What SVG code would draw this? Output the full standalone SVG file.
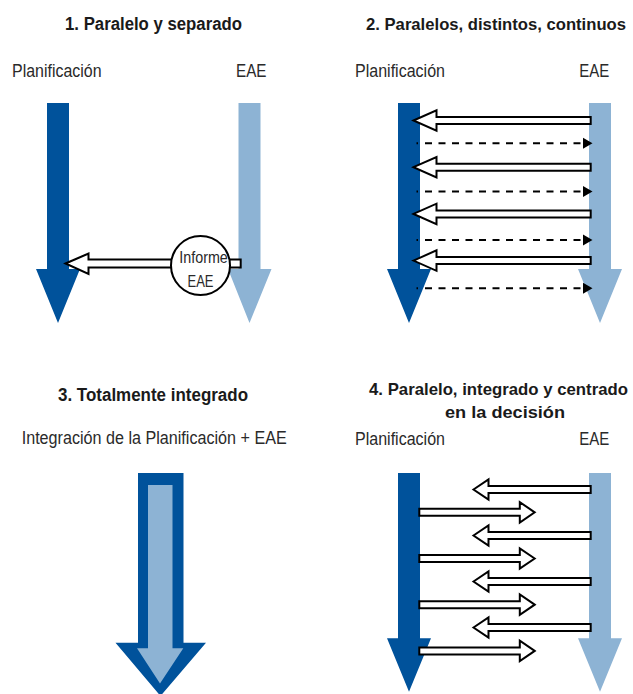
<svg xmlns="http://www.w3.org/2000/svg" width="633" height="694" viewBox="0 0 633 694">
<defs>
<style>
.title{font-family:"Liberation Sans",Arial,sans-serif;font-weight:bold;font-size:18px;fill:#1a1a1a}
.title.long{font-size:16.5px}
.lbl{font-family:"Liberation Sans",Arial,sans-serif;font-size:17.5px;fill:#2a2a2a}
.small{font-family:"Liberation Sans",Arial,sans-serif;font-size:17px;fill:#2a2a2a}
.dark{fill:#00529b}
.light{fill:#8db3d4}
.wa{fill:#ffffff;stroke:#000000;stroke-width:2;stroke-linejoin:miter}
.dash{stroke:#000000;stroke-width:2;fill:none;stroke-dasharray:7 6.5}
.dot{stroke:#000000;stroke-width:2;fill:none}
.ah{fill:#000000}
</style>
</defs>
<rect width="633" height="694" fill="#ffffff"/>

<!-- Titles -->
<g id="titles">
<text class="title" x="65" y="30" textLength="177" lengthAdjust="spacingAndGlyphs">1. Paralelo y separado</text>
<text class="title long" x="366" y="30" textLength="260" lengthAdjust="spacingAndGlyphs">2. Paralelos, distintos, continuos</text>
<text class="title" x="58" y="401" textLength="190" lengthAdjust="spacingAndGlyphs">3. Totalmente integrado</text>
<text class="title long" x="369" y="395" textLength="259" lengthAdjust="spacingAndGlyphs">4. Paralelo, integrado y centrado</text>
<text class="title long" x="445" y="417.5" textLength="120" lengthAdjust="spacingAndGlyphs">en la decisión</text>
</g>

<!-- Panel 1 -->
<g id="p1-plan">
<text class="lbl" x="12" y="77" textLength="89.5" lengthAdjust="spacingAndGlyphs">Planificación</text>
<polygon class="dark" points="47,103 69,103 69,269 80,269 58,323 36,269 47,269"/>
</g>
<g id="p1-eae">
<text class="lbl" x="236" y="77" textLength="30.5" lengthAdjust="spacingAndGlyphs">EAE</text>
<polygon class="light" points="238.5,103 260.5,103 260.5,269 271.5,269 249.5,323 228,269 238.5,269"/>
</g>

<!-- Panel 2 -->
<g id="p2-plan">
<text class="lbl" x="355" y="77" textLength="90" lengthAdjust="spacingAndGlyphs">Planificación</text>
<polygon class="dark" points="398,103 420,103 420,269 431,269 409,323 387,269 398,269"/>
</g>
<g id="p2-eae">
<text class="lbl" x="579.3" y="77" textLength="30" lengthAdjust="spacingAndGlyphs">EAE</text>
<polygon class="light" points="589,103 611,103 611,269 622,269 600,323 578,269 589,269"/>
</g>

<!-- Panel 3 -->
<g id="p3-integrado">
<text class="lbl" x="21.7" y="444" textLength="265" lengthAdjust="spacingAndGlyphs">Integración de la Planificación + EAE</text>
<polygon class="dark" points="138,473 183.5,473 183.5,642.7 206,642.7 160.5,696 115.5,642.7 138,642.7"/>
<polygon class="light" points="148,485 172.5,485 172.5,648.3 183.3,648.3 160,683.5 137,648.3 148,648.3"/>
</g>

<!-- Panel 4 -->
<g id="p4-plan">
<text class="lbl" x="355" y="445" textLength="90" lengthAdjust="spacingAndGlyphs">Planificación</text>
<polygon class="dark" points="398,473 420,473 420,638.3 431,638.3 409,691.7 387,638.3 398,638.3"/>
</g>
<g id="p4-eae">
<text class="lbl" x="579.3" y="445" textLength="30" lengthAdjust="spacingAndGlyphs">EAE</text>
<polygon class="light" points="589,473 611,473 611,638.3 622,638.3 600,691.7 578,638.3 589,638.3"/>
</g>

<!-- Connectors -->
<g id="connectors">
<!-- Panel 1: informe EAE -->
<path class="wa" d="M65.5,263.5 L88.5,253.5 L88.5,259.5 L240.7,259.5 L240.7,267.5 L88.5,267.5 L88.5,274 Z"/>
<!-- Panel 2: white arrows from EAE to Planificación -->
<path class="wa" d="M413.5,120.5 L436.5,110.3 L436.5,117 L590.7,117 L590.7,124 L436.5,124 L436.5,130.7 Z"/>
<path class="wa" d="M413.5,167.2 L436.5,157 L436.5,163.7 L590.7,163.7 L590.7,170.7 L436.5,170.7 L436.5,177.4 Z"/>
<path class="wa" d="M413.5,213.9 L436.5,203.7 L436.5,210.4 L590.7,210.4 L590.7,217.4 L436.5,217.4 L436.5,224.1 Z"/>
<path class="wa" d="M413.5,260.6 L436.5,250.4 L436.5,257.1 L590.7,257.1 L590.7,264.1 L436.5,264.1 L436.5,270.8 Z"/>
<!-- Panel 2: dashed arrows -->
<g>
<line class="dot" x1="416.5" y1="143.3" x2="418" y2="143.3"/>
<line class="dash" x1="425" y1="143.3" x2="585" y2="143.3"/>
<polygon class="ah" points="583,137.8 592.5,143.3 583,148.8"/>
</g>
<g>
<line class="dot" x1="416.5" y1="191.6" x2="418" y2="191.6"/>
<line class="dash" x1="425" y1="191.6" x2="585" y2="191.6"/>
<polygon class="ah" points="583,186.1 592.5,191.6 583,197.1"/>
</g>
<g>
<line class="dot" x1="416.5" y1="239.9" x2="418" y2="239.9"/>
<line class="dash" x1="425" y1="239.9" x2="585" y2="239.9"/>
<polygon class="ah" points="583,234.4 592.5,239.9 583,245.4"/>
</g>
<g>
<line class="dot" x1="416.5" y1="288.2" x2="418" y2="288.2"/>
<line class="dash" x1="425" y1="288.2" x2="585" y2="288.2"/>
<polygon class="ah" points="583,282.7 592.5,288.2 583,293.7"/>
</g>
<!-- Panel 4: left-pointing -->
<path class="wa" d="M473.5,489.5 L488.5,479.3 L488.5,486 L590.7,486 L590.7,493 L488.5,493 L488.5,499.7 Z"/>
<path class="wa" d="M473.5,535.5 L488.5,525.3 L488.5,532 L590.7,532 L590.7,539 L488.5,539 L488.5,545.7 Z"/>
<path class="wa" d="M473.5,581.5 L488.5,571.3 L488.5,578 L590.7,578 L590.7,585 L488.5,585 L488.5,591.7 Z"/>
<path class="wa" d="M473.5,627.5 L488.5,617.3 L488.5,624 L590.7,624 L590.7,631 L488.5,631 L488.5,637.7 Z"/>
<!-- Panel 4: right-pointing -->
<path class="wa" d="M534.7,512.3 L519.8,502.1 L519.8,508.8 L419.3,508.8 L419.3,515.8 L519.8,515.8 L519.8,522.5 Z"/>
<path class="wa" d="M534.7,558.5 L519.8,548.3 L519.8,555 L419.3,555 L419.3,562 L519.8,562 L519.8,568.7 Z"/>
<path class="wa" d="M534.7,604.7 L519.8,594.5 L519.8,601.2 L419.3,601.2 L419.3,608.2 L519.8,608.2 L519.8,614.9 Z"/>
<path class="wa" d="M534.7,650.9 L519.8,640.7 L519.8,647.4 L419.3,647.4 L419.3,654.4 L519.8,654.4 L519.8,661.1 Z"/>
</g>

<!-- Panel 1: Informe EAE node -->
<g id="p1-informe">
<circle cx="200.5" cy="265.5" r="29.5" fill="#ffffff" stroke="#000000" stroke-width="2"/>
<text class="small" x="179.3" y="263.3" textLength="48.5" lengthAdjust="spacingAndGlyphs">Informe</text>
<text class="small" x="187.5" y="287.3" textLength="26" lengthAdjust="spacingAndGlyphs">EAE</text>
</g>
</svg>
